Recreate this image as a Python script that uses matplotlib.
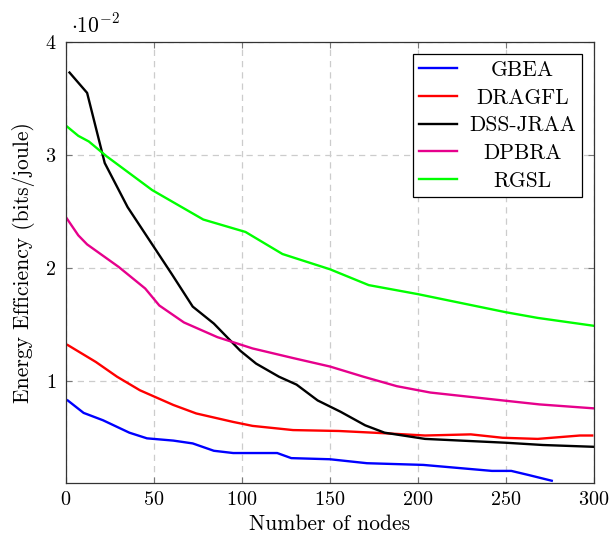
import matplotlib
matplotlib.use("Agg")
import matplotlib.pyplot as plt

plt.rcParams['font.family'] = 'serif'
plt.rcParams['font.serif'] = ['cmr10', 'DejaVu Serif']
plt.rcParams['mathtext.fontset'] = 'cm'
plt.rcParams['axes.formatter.use_mathtext'] = True

gbea_x = [1, 10, 21, 36, 46, 61, 72, 84, 95, 120, 128, 150, 171, 203, 242, 253, 263, 276]
gbea_y = [0.83, 0.72, 0.655, 0.545, 0.495, 0.475, 0.45, 0.385, 0.365, 0.365, 0.32, 0.31, 0.275, 0.26, 0.207, 0.207, 0.17, 0.12]

dragfl_x = [1, 17, 29, 42, 61, 74, 95, 106, 129, 155, 181, 204, 230, 248, 268, 292, 299]
dragfl_y = [1.32, 1.17, 1.04, 0.92, 0.79, 0.715, 0.64, 0.605, 0.568, 0.56, 0.54, 0.52, 0.53, 0.50, 0.49, 0.52, 0.52]

dss_x = [2, 12, 22, 35, 60, 72, 84, 94, 99, 108, 121, 131, 143, 156, 170, 181, 204, 250, 271, 300]
dss_y = [3.73, 3.55, 2.93, 2.54, 1.95, 1.66, 1.51, 1.35, 1.27, 1.156, 1.04, 0.97, 0.83, 0.73, 0.61, 0.545, 0.49, 0.456, 0.436, 0.42]

dpbra_x = [0, 7, 12, 30, 45, 53, 67, 86, 106, 129, 150, 169, 188, 207, 250, 269, 300]
dpbra_y = [2.45, 2.29, 2.21, 2.01, 1.82, 1.67, 1.52, 1.39, 1.29, 1.205, 1.13, 1.04, 0.956, 0.90, 0.827, 0.795, 0.76]

rgsl_x = [0, 7, 13, 23, 49, 78, 102, 123, 150, 172, 200, 250, 268, 300]
rgsl_y = [3.26, 3.17, 3.12, 2.99, 2.69, 2.43, 2.32, 2.125, 1.99, 1.85, 1.77, 1.61, 1.56, 1.49]

series = [
    ("GBEA", gbea_x, gbea_y, "#0000ff"),
    ("DRAGFL", dragfl_x, dragfl_y, "#ff0000"),
    ("DSS-JRAA", dss_x, dss_y, "#000000"),
    ("DPBRA", dpbra_x, dpbra_y, "#e6008c"),
    ("RGSL", rgsl_x, rgsl_y, "#00ff00"),
]

x_ticks = [0, 50, 100, 150, 200, 250, 300]
y_ticks = [1, 2, 3, 4]

fig = plt.figure(figsize=(6.11, 5.41), dpi=100)
ax = fig.add_axes([66/611, 58/541, 528/611, 441/541])

for name, xs, ys, c in series:
    ax.plot(xs, ys, color=c, lw=1.7, label=name)

ax.set_xlim(0, 300)
ax.set_ylim(0.1, 4)
ax.set_xticks(x_ticks)
ax.set_yticks(y_ticks)
ax.set_xticklabels([f"${t}$" for t in x_ticks], fontsize=14.5)
ax.set_yticklabels([f"${t}$" for t in y_ticks], fontsize=14.5)
ax.tick_params(axis='both', direction='in', top=True, right=True, length=4, width=0.8,
               colors='#777777', labelcolor='black')
ax.tick_params(axis='x', pad=6)
ax.tick_params(axis='y', pad=7)
ax.grid(True, color='#cccccc', linestyle=(0, (5, 4)), lw=0.9)
for s in ax.spines.values():
    s.set_linewidth(0.9)
    s.set_color('#333333')

ax.set_xlabel("Number of nodes", fontsize=15.5, labelpad=4)
ax.set_ylabel("Energy Efficiency (bits/joule)", fontsize=15.5, labelpad=7)
ax.text(0.01, 1.012, r"$\cdot 10^{-2}$", transform=ax.transAxes, fontsize=15.5, ha='left', va='bottom')

leg = ax.legend(loc='upper right', fontsize=15.5, fancybox=False, edgecolor='black',
                framealpha=1, borderaxespad=0.55, handlelength=1.75, labelspacing=0.38,
                borderpad=0.3, handletextpad=0.55)
leg.get_frame().set_linewidth(0.9)

# center legend texts within their column (as in the reference):
# shift each text by half of its width deficit (display pixels) without changing layout
fig.canvas.draw()
r = fig.canvas.get_renderer()
texts = leg.get_texts()
widths = [t.get_window_extent(r).width for t in texts]
maxw = max(widths)
for t, w in zip(texts, widths):
    t.set_x((maxw - w) / 2)

fig.savefig("out.png", dpi=100)
